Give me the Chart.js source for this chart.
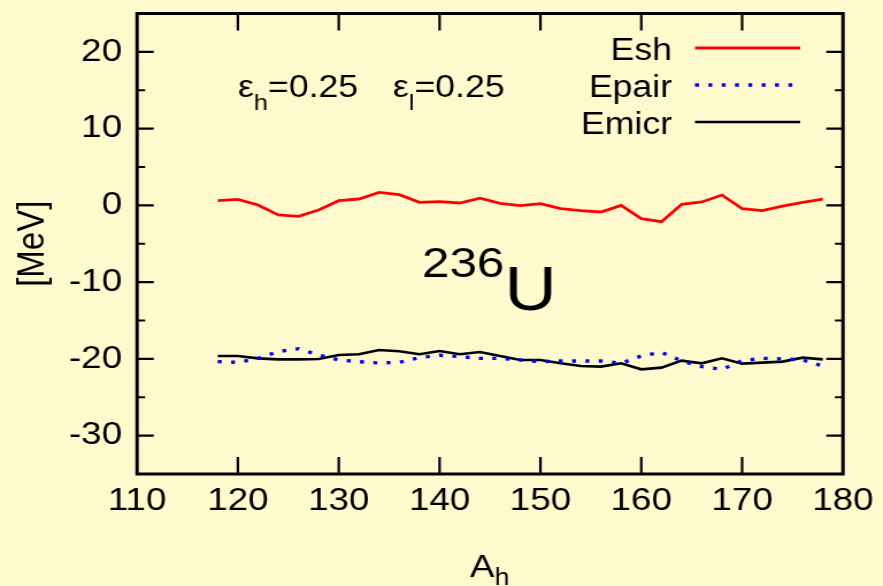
<!DOCTYPE html>
<html>
<head>
<meta charset="utf-8">
<script src="https://cdn.jsdelivr.net/npm/chart.js@4/dist/chart.umd.min.js"></script>
<style>
  html, body { margin: 0; padding: 0; overflow: hidden; background: #fffacd; }
  /* the plot is laid out on a narrower canvas and widened to the window */
  #wrap { position: absolute; left: 0; top: 0; width: 768px; height: 586px;
          transform: scaleX(1.1497); transform-origin: 0 0; }
</style>
</head>
<body>
<div id="wrap"><canvas id="c"></canvas></div>
<script>
// heavy fragment mass numbers
const massAh = [118, 120, 122, 124, 126, 128, 130, 132, 134, 136, 138, 140, 142, 144, 146, 148,
                150, 152, 154, 156, 158, 160, 162, 164, 166, 168, 170, 172, 174, 176, 178];
// energies in MeV
const esh = [0.61, 0.79, 0.05, -1.25, -1.42, -0.60, 0.61, 0.83, 1.70, 1.40, 0.40, 0.48, 0.31, 0.95, 0.27, -0.04,
             0.22, -0.43, -0.69, -0.86, 0.00, -1.73, -2.12, 0.14, 0.44, 1.35, -0.43, -0.69, -0.10, 0.40, 0.83];
const epair = [-20.36, -20.45, -19.93, -19.05, -18.67, -19.49, -20.14, -20.36, -20.53, -20.45, -19.84, -19.53, -19.71, -19.93, -19.93, -20.14,
               -20.36, -20.27, -20.27, -20.27, -20.58, -19.62, -19.14, -20.27, -21.01, -21.36, -20.23, -19.93, -20.00, -20.14, -20.93];
const emicr = [-19.62, -19.62, -19.93, -20.06, -20.06, -20.01, -19.49, -19.40, -18.84, -19.01, -19.40, -18.97, -19.40, -19.10, -19.62, -20.14,
               -20.14, -20.58, -20.93, -21.01, -20.58, -21.36, -21.14, -20.23, -20.58, -19.93, -20.62, -20.49, -20.36, -19.84, -20.06];

const seriesNames = ['Esh', 'Epair', 'Emicr'];
const seriesColors = ['#ff0000', '#0000ff', '#000000'];
const xRange = [110, 180];
const yRange = [-35, 25];

const FONT = '"Liberation Sans", Arial, Helvetica, sans-serif';
const pts = arr => massAh.map((a, i) => ({ x: a, y: arr[i] }));

// box around the plot with inward ticks on all four sides
const framePlugin = {
  id: 'frame',
  afterDatasetsDraw(chart) {
    const { ctx, chartArea: a, scales: { x, y } } = chart;
    ctx.save();
    ctx.strokeStyle = '#000';
    ctx.lineWidth = 2.2;
    ctx.beginPath();
    x.ticks.forEach(t => {
      if (t.value <= xRange[0] || t.value >= xRange[1]) return;
      const px = x.getPixelForValue(t.value);
      ctx.moveTo(px, a.bottom); ctx.lineTo(px, a.bottom - 17);
      ctx.moveTo(px, a.top); ctx.lineTo(px, a.top + 17);
    });
    y.ticks.forEach(t => {
      if (t.value <= yRange[0] || t.value >= yRange[1]) return;
      const py = y.getPixelForValue(t.value);
      const len = t.value % 10 === 0 ? 14.5 : 7;
      ctx.moveTo(a.left, py); ctx.lineTo(a.left + len, py);
      ctx.moveTo(a.right, py); ctx.lineTo(a.right - len, py);
    });
    ctx.stroke();
    ctx.lineWidth = 3;
    ctx.strokeRect(a.left, a.top, a.right - a.left, a.bottom - a.top);
    ctx.restore();
  }
};

// legend, parameter text, nucleus label and x title
const textPlugin = {
  id: 'texts',
  afterDraw(chart) {
    const ctx = chart.ctx;
    ctx.save();
    ctx.fillStyle = '#000';
    ctx.textBaseline = 'alphabetic';

    // legend: right-aligned names followed by line samples
    const rows = [48, 85, 122];
    seriesNames.forEach((name, i) => {
      ctx.font = '31px ' + FONT;
      ctx.textAlign = 'right';
      ctx.fillText(name, 584.5, rows[i] + 12);
      const ds = chart.data.datasets[i];
      ctx.strokeStyle = ds.borderColor;
      ctx.lineWidth = ds.borderWidth;
      ctx.setLineDash(ds.borderDash || []);
      ctx.beginPath();
      ctx.moveTo(604.5, rows[i]);
      ctx.lineTo(696, rows[i]);
      ctx.stroke();
      ctx.setLineDash([]);
    });

    ctx.textAlign = 'left';
    // eps_h = 0.25   eps_l = 0.25
    const eps = (x0, sub) => {
      let x = x0;
      ctx.font = '31px ' + FONT;
      ctx.fillText('\u03b5', x, 97);
      x += ctx.measureText('\u03b5').width;
      ctx.font = '22px ' + FONT;
      ctx.fillText(sub, x, 110);
      x += ctx.measureText(sub).width;
      ctx.font = '31px ' + FONT;
      ctx.fillText('=0.25', x, 97);
    };
    eps(207, 'h');
    eps(341.8, 'l');

    // 236U
    ctx.font = '43px ' + FONT;
    ctx.fillText('236', 367, 277);
    const w = ctx.measureText('236').width;
    ctx.font = '63px ' + FONT;
    ctx.fillText('U', 367 + w, 310);

    // x axis title A_h
    ctx.font = '32px ' + FONT;
    ctx.fillText('A', 408.8, 577);
    const wa = ctx.measureText('A').width;
    ctx.font = '23px ' + FONT;
    ctx.fillText('h', 408.8 + wa, 585);
    ctx.restore();
  }
};

new Chart(document.getElementById('c'), {
  type: 'line',
  data: {
    datasets: [
      { label: seriesNames[0], data: pts(esh), borderColor: seriesColors[0], borderWidth: 2.8, pointRadius: 0, tension: 0, fill: false },
      { label: seriesNames[1], data: pts(epair), borderColor: seriesColors[1], borderWidth: 3.4, borderDash: [3.4, 8.2], borderCapStyle: 'butt', pointRadius: 0, tension: 0, fill: false },
      { label: seriesNames[2], data: pts(emicr), borderColor: seriesColors[2], borderWidth: 2.6, pointRadius: 0, tension: 0, fill: false }
    ]
  },
  options: {
    responsive: true,
    maintainAspectRatio: false,
    animation: false,
    layout: { padding: { top: 13.5, right: 34.8, left: 0, bottom: 0 } },
    plugins: { legend: { display: false }, tooltip: { enabled: false } },
    scales: {
      x: {
        type: 'linear', min: xRange[0], max: xRange[1],
        grid: { display: false, drawTicks: false },
        border: { display: false },
        ticks: { stepSize: 10, padding: 8, autoSkip: false, color: '#000', font: { family: FONT, size: 32 }, maxRotation: 0 },
        afterFit(s) { s.height = 112; s.paddingLeft = 0; s.paddingRight = 0; }
      },
      y: {
        min: yRange[0], max: yRange[1],
        grid: { display: false, drawTicks: false },
        border: { display: false },
        ticks: {
          stepSize: 5, padding: 13, autoSkip: false, color: '#000', font: { family: FONT, size: 32 },
          callback: v => (v % 10 === 0 ? String(v) : '')
        },
        title: { display: true, text: '[MeV]', color: '#000', font: { family: FONT, size: 33 }, padding: { top: 9, bottom: 0 } },
        afterFit(s) { s.width = 119.2; s.paddingTop = 0; s.paddingBottom = 0; }
      }
    }
  },
  plugins: [framePlugin, textPlugin]
});
</script>
</body>
</html>
